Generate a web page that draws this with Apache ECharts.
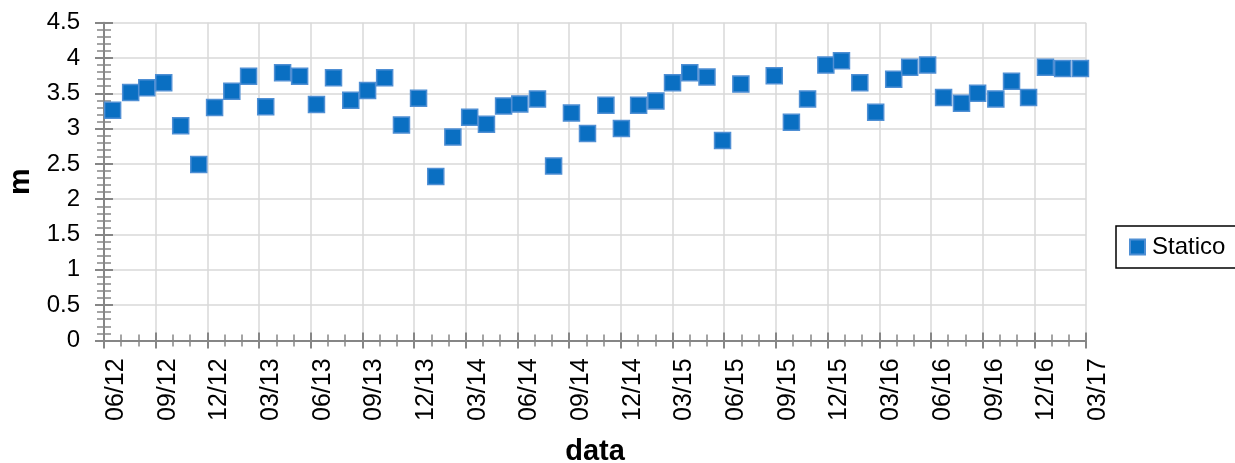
<!DOCTYPE html>
<html><head><meta charset="utf-8">
<script src="https://cdn.jsdelivr.net/npm/echarts@6/dist/echarts.min.js"></script>
<style>html,body{margin:0;padding:0;background:#fff}#c{width:1235px;height:463px}</style>
</head><body><div id="c"></div>
<script>
const seriesName = 'Statico';
const xTitle = 'data';
const yTitle = 'm';
const startYear = 2012, startMonth = 6; // axis origin 06/12
const endMonths = 57;                   // 03/17
const dates = ['2012-06-16','2012-07-18','2012-08-16','2012-09-15','2012-10-15','2012-11-16','2012-12-14',
 '2013-01-14','2013-02-12','2013-03-13','2013-04-12','2013-05-12','2013-06-11','2013-07-11','2013-08-11','2013-09-10','2013-10-10','2013-11-09','2013-12-09',
 '2014-01-09','2014-02-08','2014-03-08','2014-04-07','2014-05-07','2014-06-05','2014-07-06','2014-08-04','2014-09-05','2014-10-03','2014-11-05','2014-12-02',
 '2015-01-02','2015-02-02','2015-03-01','2015-04-01','2015-05-01','2015-05-29','2015-06-30','2015-08-29','2015-09-28','2015-10-27','2015-11-28','2015-12-26',
 '2016-01-28','2016-02-24','2016-03-27','2016-04-24','2016-05-26','2016-06-23','2016-07-25','2016-08-23','2016-09-24','2016-10-22','2016-11-21','2016-12-21',
 '2017-01-21','2017-02-20'];
const values = [3.26,3.51,3.58,3.65,3.04,2.49,3.30,3.53,3.74,3.31,3.79,3.74,3.34,3.72,3.40,3.54,3.72,3.05,3.43,
 2.32,2.88,3.16,3.06,3.32,3.35,3.42,2.47,3.22,2.93,3.33,3.00,3.33,3.39,3.65,3.79,3.73,2.83,3.63,
 3.75,3.09,3.42,3.90,3.96,3.65,3.23,3.70,3.87,3.90,3.44,3.36,3.50,3.42,3.67,3.44,3.87,3.85,3.85];

function monthIndex(s){
  const [y,m,d] = s.split('-').map(Number);
  const dim = new Date(y, m, 0).getDate();
  return (y-startYear)*12 + (m-startMonth) + (d-1)/dim;
}
function fmtMonth(v){
  const t = startMonth - 1 + Math.round(v);
  const y = startYear + Math.floor(t/12);
  const m = t % 12 + 1;
  return String(m).padStart(2,'0') + '/' + String(y % 100).padStart(2,'0');
}
const points = dates.map((d,i)=>[monthIndex(d), values[i]]);

const FONT = "'Liberation Sans', Arial, sans-serif";
const axisGray = '#868686';
const gridGray = '#d9d9d9';

const xBase = {type:'value', min:0, max:endMonths, interval:3, position:'bottom', offset:0};
const yBase = {type:'value', min:0, max:4.5, interval:0.5, position:'left', offset:0};

const chart = echarts.init(document.getElementById('c'), null, {renderer:'canvas'});
chart.setOption({
  animation:false,
  backgroundColor:'#fff',
  grid:{left:104, right:149, top:22.7, bottom:122.6, containLabel:false, outerBoundsMode:'none'},
  legend:{
    data:[seriesName], left:1116, top:226, orient:'vertical',
    borderColor:'#000', borderWidth:1.5, padding:[9,30,9,13],
    itemWidth:15, itemHeight:15, itemGap:0,
    textStyle:{fontFamily:FONT, fontSize:24, color:'#000', padding:[0,0,0,2]}
  },
  xAxis:[
    Object.assign({}, xBase, {
      name:xTitle, nameLocation:'middle', nameGap:97,
      nameTextStyle:{fontFamily:FONT, fontSize:29, fontWeight:'bold', color:'#000'},
      axisLine:{show:true, lineStyle:{color:axisGray, width:2}},
      axisTick:{show:true, inside:false, length:8, lineStyle:{color:axisGray, width:2}},
      minorTick:{show:true, splitNumber:3, length:6, lineStyle:{color:axisGray, width:1.5}},
      axisLabel:{rotate:90, margin:18, fontFamily:FONT, fontSize:25, lineHeight:24, color:'#000',
        verticalAlign:'top', formatter:fmtMonth, showMinLabel:true, showMaxLabel:true},
      splitLine:{show:true, lineStyle:{color:gridGray, width:1.5}}
    }),
    Object.assign({}, xBase, {
      axisLine:{show:false},
      axisTick:{show:true, inside:true, length:8, lineStyle:{color:axisGray, width:2}},
      minorTick:{show:true, splitNumber:3, length:6, lineStyle:{color:axisGray, width:1.5}},
      axisLabel:{show:false}, splitLine:{show:false}
    })
  ],
  yAxis:[
    Object.assign({}, yBase, {
      name:yTitle, nameLocation:'middle', nameGap:64, nameRotate:90,
      nameTextStyle:{fontFamily:FONT, fontSize:30, fontWeight:'bold', color:'#000'},
      axisLine:{show:true, lineStyle:{color:axisGray, width:2}},
      axisTick:{show:true, inside:false, length:9, lineStyle:{color:axisGray, width:2}},
      minorTick:{show:true, splitNumber:5, length:7, lineStyle:{color:axisGray, width:1.5}},
      axisLabel:{margin:24, fontFamily:FONT, fontSize:24, color:'#000'},
      splitLine:{show:true, lineStyle:{color:gridGray, width:1.5}}
    }),
    Object.assign({}, yBase, {
      axisLine:{show:false},
      axisTick:{show:true, inside:true, length:9, lineStyle:{color:axisGray, width:2}},
      minorTick:{show:true, splitNumber:5, length:7, lineStyle:{color:axisGray, width:1.5}},
      axisLabel:{show:false}, splitLine:{show:false}
    })
  ],
  series:[{
    name:seriesName, type:'scatter', xAxisIndex:0, yAxisIndex:0,
    symbol:'rect', symbolSize:16,
    itemStyle:{color:'#0a6fc2', borderColor:'#4f8fd4', borderWidth:1.5, opacity:1},
    data:points
  }]
});
</script></body></html>
